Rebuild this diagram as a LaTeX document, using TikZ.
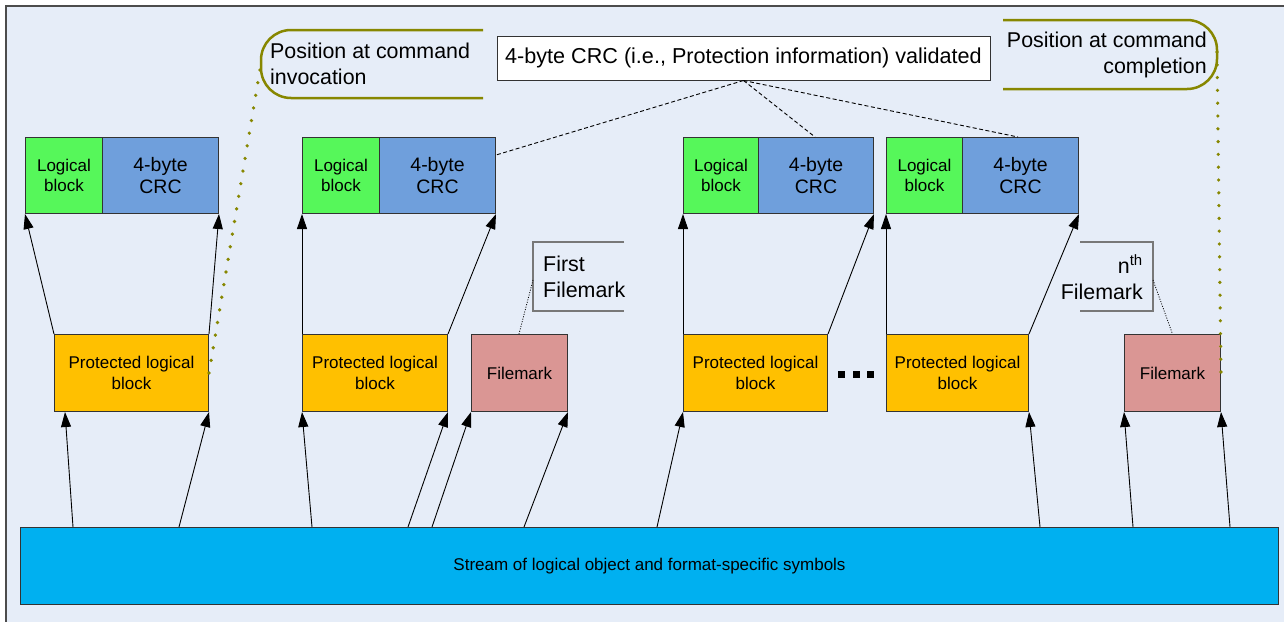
\documentclass[tikz,border=0pt]{standalone}
\usepackage{fontspec}
\setmainfont{Liberation Sans}
\usetikzlibrary{arrows.meta}
\definecolor{bgpanel}{RGB}{230,237,248}
\definecolor{lbgreen}{RGB}{86,247,90}
\definecolor{crcblue}{RGB}{111,159,220}
\definecolor{plborange}{RGB}{255,192,0}
\definecolor{fmpink}{RGB}{218,150,148}
\definecolor{streamblue}{RGB}{0,176,240}
\definecolor{olivemark}{RGB}{135,135,0}
\definecolor{bracketgray}{RGB}{120,120,120}
\tikzset{
  blk/.style={draw=black!80, line width=1pt, inner sep=0pt, anchor=north west, align=center},
  lbbox/.style={blk, fill=lbgreen, minimum height=76, font=\fontsize{17}{20.5}\selectfont},
  crcbox/.style={blk, fill=crcblue, minimum height=76, font=\fontsize{19.5}{22}\selectfont},
  plbbox/.style={blk, fill=plborange, minimum height=77, font=\fontsize{17}{21}\selectfont},
  fmbox/.style={blk, fill=fmpink, minimum height=77, font=\fontsize{17}{21}\selectfont},
  flow/.style={line width=0.9pt, -{Triangle[length=15pt,width=10pt]}},
  crcdash/.style={line width=0.9pt, dash pattern=on 4pt off 2.5pt},
  fmdot/.style={line width=0.8pt, dash pattern=on 1pt off 1.5pt},
  olivedot/.style={olivemark, line width=3.6pt, line cap=round, dash pattern=on 0pt off 12.8pt},
  callout/.style={olivemark, line width=2.5pt, rounded corners=30pt},
  bracket/.style={bracketgray, line width=1.2pt},
  bigtext/.style={inner sep=0pt, font=\fontsize{21.4}{26}\selectfont}
}
\begin{document}
\begin{tikzpicture}[x=1pt,y=-1pt]
\useasboundingbox (0,0) rectangle (1284,621);
\fill[white] (0,0) rectangle (1284,621);
\draw[fill=bgpanel, draw=black!70, line width=1.5pt] (6,6) rectangle (1310,650);

% logical block / CRC pairs
\node[lbbox, minimum width=77] (lb1) at (25,137) {Logical\\block};
\node[crcbox, minimum width=116] (crc1) at (102,137) {4-byte\\CRC};
\node[lbbox, minimum width=77] (lb2) at (302,137) {Logical\\block};
\node[crcbox, minimum width=116] (crc2) at (379,137) {4-byte\\CRC};
\node[lbbox, minimum width=75] (lb3) at (683,137) {Logical\\block};
\node[crcbox, minimum width=115] (crc3) at (758,137) {4-byte\\CRC};
\node[lbbox, minimum width=76] (lb4) at (886,137) {Logical\\block};
\node[crcbox, minimum width=116] (crc4) at (962,137) {4-byte\\CRC};

% protected logical blocks and filemarks
\node[plbbox, minimum width=154] (plb1) at (54,334) {Protected logical\\block};
\node[plbbox, minimum width=145] (plb2) at (302,334) {Protected logical\\block};
\node[fmbox, minimum width=96] (fm1) at (471,334) {Filemark};
\node[plbbox, minimum width=144] (plb3) at (683,334) {Protected logical\\block};
\node[plbbox, minimum width=142] (plb4) at (886,334) {Protected logical\\block};
\node[fmbox, minimum width=96] (fm2) at (1124,334) {Filemark};

% ellipsis between blocks
\foreach \dx in {841,856,870} \fill (\dx-3.5,370.5) rectangle (\dx+3.5,377.5);

% stream
\node[blk, fill=streamblue, minimum width=1258, minimum height=77,
      font=\fontsize{17}{20}\selectfont] (stream) at (20,527)
      {Stream of logical object and format-specific symbols};

% stream to blocks
\draw[flow] (stream.north -| 73,0) -- (plb1.south -| 65,0);
\draw[flow] (stream.north -| 179,0) -- (plb1.south east);
\draw[flow] (stream.north -| 312,0) -- (plb2.south west);
\draw[flow] (stream.north -| 408,0) -- (plb2.south east);
\draw[flow] (stream.north -| 432,0) -- (fm1.south west);
\draw[flow] (stream.north -| 524,0) -- (fm1.south east);
\draw[flow] (stream.north -| 657,0) -- (plb3.south west);
\draw[flow] (stream.north -| 1040,0) -- (plb4.south east);
\draw[flow] (stream.north -| 1133,0) -- (fm2.south west);
\draw[flow] (stream.north -| 1230,0) -- (fm2.south east);

% blocks to logical block / CRC
\draw[flow] (plb1.north west) -- (lb1.south west);
\draw[flow] (plb1.north east) -- (crc1.south east);
\draw[flow] (plb2.north west) -- (lb2.south west);
\draw[flow] (plb2.north east) -- (crc2.south east);
\draw[flow] (plb3.north west) -- (lb3.south west);
\draw[flow] (plb3.north east) -- (crc3.south east);
\draw[flow] (plb4.north west) -- (lb4.south west);
\draw[flow] (plb4.north east) -- (crc4.south east);

% CRC validation note
\node[draw=black!80, fill=white, line width=1pt, minimum width=493, minimum height=44,
      inner sep=0pt, font=\fontsize{21.6}{26}\selectfont] (crcv) at (743.5,58)
      {4-byte CRC (i.e., Protection information) validated};
\draw[crcdash] (crcv.south) -- (crc2.east |- 0,155);
\draw[crcdash] (crcv.south) -- (crc3.north -| 815,0);
\draw[crcdash] (crcv.south) -- (crc4.north -| 1018,0);

% command position callouts
\draw[callout] (483,30) -- (261,30) -- (261,98) -- (483,98);
\node[bigtext, anchor=west, align=left] (posinv) at (270,64) {Position at command\\invocation};
\coordinate (invtip) at (262,58);
\draw[olivedot] (plb1.east |- 0,373) -- (invtip);

\draw[callout] (1003,20) -- (1217,20) -- (1217,89) -- (1003,89);
\node[bigtext, anchor=east, align=right] (poscmp) at (1207,55) {Position at command\\completion};
\coordinate (cmptip) at (1217,52);
\draw[olivedot] (cmptip) -- (fm2.east |- 0,373);

% filemark labels
\draw[bracket] (624,242) -- (533,242) -- (533,311) -- (624,311);
\node[bigtext, anchor=west, align=left] (fl1) at (543,277) {First\\Filemark};
\coordinate (fl1tip) at (533,280);
\draw[fmdot] (fl1tip) -- (fm1.north -| 519,0);

\draw[bracket] (1080,242) -- (1153,242) -- (1153,311) -- (1080,311);
\node[bigtext, anchor=east, align=right] (fln) at (1143,277) {n\textsuperscript{th}\\Filemark};
\coordinate (flntip) at (1153,280);
\draw[fmdot] (flntip) -- (fm2.north);
\end{tikzpicture}
\end{document}
